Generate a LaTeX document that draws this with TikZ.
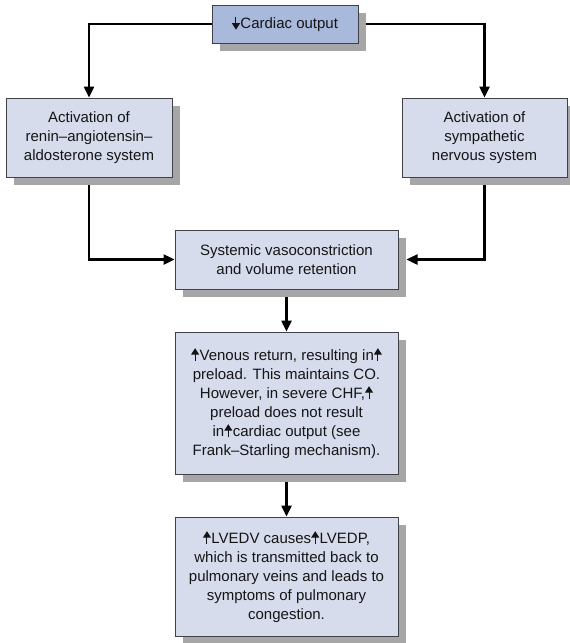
\documentclass[tikz,border=0pt]{standalone}
\usepackage{fontspec}
\setmainfont{Liberation Sans}
\usepackage{xcolor}
\usepackage{tikz}
\usetikzlibrary{arrows.meta, positioning, shadows, backgrounds}

\definecolor{boxfill}{HTML}{D6DCEC}
\definecolor{topfill}{HTML}{A9B9DC}
\definecolor{boxline}{HTML}{404048}
\definecolor{txt}{HTML}{151515}

% small filled arrows inside the text
\newcommand{\incr}{\tikz[baseline=0pt]\draw[txt, line width=1pt, -{Triangle[length=6.5pt,width=8pt]}] (0,-1pt) -- (0,12pt);\hspace{0.5pt}}
\newcommand{\decr}{\tikz[baseline=0pt]\draw[txt, line width=1pt, -{Triangle[length=6.5pt,width=8pt]}] (0,12pt) -- (0,-1pt);\hspace{0.5pt}}

\begin{document}
\begin{tikzpicture}[
    x=1pt, y=1pt,
    node distance=42pt,
    box/.style={draw=boxline, line width=1pt, rectangle, fill=boxfill, minimum width=223pt, align=center,
        text=txt, font=\fontsize{15}{19}\selectfont,
        drop shadow={shadow xshift=8pt, shadow yshift=-8pt, fill=black!35, opacity=1}},
    arrow/.style={line width=2.4pt, -{Triangle[length=11pt,width=10pt]}}
]
\useasboundingbox (0,0) rectangle (570,-643);

\node[box, fill=topfill, minimum width=146pt, minimum height=38pt] (co) at (285,-24) {\decr Cardiac output};
\node[box, minimum width=166pt, minimum height=79pt] (raas) at (89,-137.5) {Activation of\\renin–angiotensin–\\aldosterone system};
\node[box, minimum width=165pt, minimum height=79pt] (sns) at (484.5,-137.5) {Activation of\\sympathetic\\nervous system};
\node[box, minimum height=59pt] (sys) at (286.5,-259.5) {Systemic vasoconstriction\\and volume retention};
\node[box, minimum height=142pt, below=of sys] (ven) {\incr Venous return, resulting in\incr\\preload. This maintains CO.\\However, in severe CHF,\incr\\preload does not result\\in\incr cardiac output (see\\Frank–Starling mechanism).};
\node[box, minimum height=119pt, below=of ven] (lv) {\incr LVEDV causes\incr LVEDP,\\which is transmitted back to\\pulmonary veins and leads to\\symptoms of pulmonary\\congestion.};

\begin{scope}[on background layer]
\draw[arrow] (co.west) -| (raas.north);
\draw[arrow] (co.east) -| (sns.north);
\draw[arrow] (raas.south) |- (sys.west);
\draw[arrow] (sns.south) |- ([xshift=8pt]sys.east);
\draw[arrow] (sys.south) -- (ven.north);
\draw[arrow] (ven.south) -- (lv.north);
\end{scope}

\end{tikzpicture}
\end{document}
